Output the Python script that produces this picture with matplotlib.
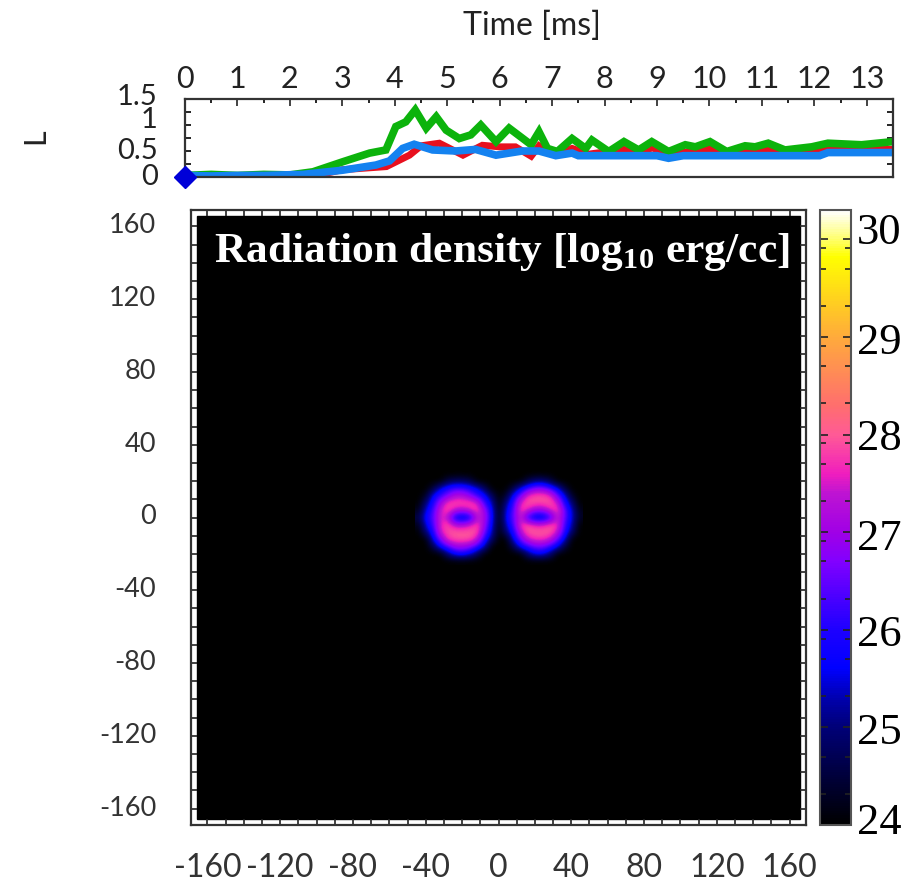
import matplotlib
matplotlib.use("Agg")
import matplotlib.pyplot as plt
import numpy as np
from matplotlib.colors import LinearSegmentedColormap, Normalize
from matplotlib.cm import ScalarMappable
from matplotlib.patches import Rectangle
from matplotlib.transforms import ScaledTranslation

plt.rcParams['font.family'] = ['Lato', 'DejaVu Sans']
plt.rcParams['mathtext.fontset'] = 'custom'
plt.rcParams['mathtext.bf'] = 'Liberation Serif:bold'
plt.rcParams['mathtext.rm'] = 'Liberation Serif:bold'

# luminosity curves
t_green = [0, 0.5, 1.0, 1.5, 2.0, 2.44, 3.0, 3.52, 3.83, 4.02, 4.21, 4.39, 4.6, 4.79, 4.98, 5.23, 5.45, 5.64,
           5.93, 6.18, 6.6, 6.75, 6.91, 7.1, 7.38, 7.64, 7.76, 8.08, 8.37, 8.65, 8.9, 9.22, 9.54, 9.73, 10.01,
           10.33, 10.68, 10.87, 11.12, 11.44, 11.95, 12.26, 12.9, 13.5]
green = [0.03, 0.05, 0.03, 0.05, 0.04, 0.1, 0.29, 0.46, 0.52, 0.97, 1.06, 1.29, 0.94, 1.16, 0.9, 0.74, 0.81, 1.0,
         0.68, 0.94, 0.62, 0.87, 0.55, 0.49, 0.74, 0.55, 0.71, 0.49, 0.68, 0.52, 0.68, 0.49, 0.62, 0.58, 0.68,
         0.49, 0.6, 0.58, 0.65, 0.52, 0.58, 0.65, 0.62, 0.68]
t_blue = [0, 0.5, 1.0, 1.5, 2.25, 3.0, 3.64, 3.9, 4.15, 4.37, 4.53, 4.72, 5.16, 5.54, 5.93, 6.43, 6.75, 7.07,
          7.38, 7.5, 9.0, 9.22, 9.5, 12.1, 12.26, 13.5]
blue = [0.03, 0.02, 0.03, 0.03, 0.05, 0.13, 0.23, 0.31, 0.55, 0.63, 0.58, 0.52, 0.5, 0.53, 0.42, 0.5, 0.5, 0.41,
        0.46, 0.41, 0.41, 0.36, 0.41, 0.41, 0.47, 0.47]
t_red = [0, 2.5, 3.0, 3.84, 4.28, 4.5, 4.85, 5.3, 5.67, 6.0, 6.3, 6.6, 6.75, 7.0, 7.38, 7.7, 8.37, 8.65, 8.9,
         9.3, 10.01, 10.4, 11.12, 11.5, 12.2, 13.5]
red = [0.02, 0.03, 0.14, 0.2, 0.42, 0.6, 0.65, 0.42, 0.61, 0.58, 0.58, 0.4, 0.6, 0.44, 0.55, 0.44, 0.53, 0.44,
       0.56, 0.44, 0.55, 0.44, 0.55, 0.44, 0.53, 0.53]
time_ticks = list(range(14))

# radiation density, log10, cells 4 units wide, top row first
cell_x = list(range(-44, 45, 4))
cell_y = list(range(24, -25, -4))
density = [
    [24]*23,
    [24, 24, 24, 24, 24.6, 24.8, 24.8, 24.6, 24, 24, 24, 24, 24, 24, 24, 24.6, 25, 25, 24.6, 24, 24, 24, 24],
    [24, 24, 24.5, 25.5, 26, 26.3, 26.3, 26, 25.6, 24.8, 24, 24, 24, 24.6, 25.6, 26.3, 26.8, 26.8, 26.3, 25.6, 24.5, 24, 24],
    [24, 24.3, 25.7, 26.2, 26.7, 27.2, 27.2, 26.8, 26.2, 25.8, 24.8, 24, 24.4, 25.8, 26.7, 27.7, 27.9, 27.9, 27.7, 26.6, 25.6, 24.3, 24],
    [24, 25, 26, 27, 27.8, 27.9, 27.9, 27.9, 27.6, 26.3, 25.4, 24, 25.1, 26.2, 27.6, 28, 27.9, 27.9, 28, 27.5, 26, 25, 24],
    [24.2, 25.5, 26.3, 27.5, 27.9, 27.4, 27.2, 27.5, 27.9, 27, 25.8, 24, 25.5, 26.4, 27.9, 27.5, 27, 27, 27.5, 27.9, 26.6, 25.4, 24.2],
    [24.6, 25.8, 26.4, 27.6, 27.3, 25.6, 25.3, 25.6, 27.3, 27.2, 25.9, 24, 25.7, 26.5, 27.5, 26, 25.3, 25.3, 26, 27.5, 26.6, 25.5, 24.3],
    [24.2, 25.5, 26.3, 27.6, 27.9, 27.3, 27.2, 27.5, 27.9, 27, 25.7, 24, 25.4, 26.3, 27.8, 27.9, 27.6, 27.6, 27.9, 27.8, 26.3, 25.3, 24],
    [24, 25, 26, 27.5, 27.9, 28, 28, 28, 27.9, 26.7, 25.4, 24, 25, 26, 27.3, 28, 28, 28, 28, 27.4, 26.1, 24.9, 24],
    [24, 24, 25.6, 26.7, 27.7, 27.9, 27.9, 27.9, 27.4, 26.1, 24.9, 24, 24, 25.6, 26.6, 27.4, 27.7, 27.7, 27.4, 26.6, 25.5, 24, 24],
    [24, 24, 24.6, 25.8, 26.4, 27, 27, 26.8, 26.2, 25.4, 24, 24, 24, 24.6, 25.8, 26.2, 26.6, 26.6, 26.2, 25.6, 24.5, 24, 24],
    [24, 24, 24, 24, 25, 25.7, 25.9, 25.5, 24.8, 24, 24, 24, 24, 24, 24, 25, 25.6, 25.6, 25, 24, 24, 24, 24],
    [24]*23,
]
xy_ticks = [-160, -120, -80, -40, 0, 40, 80, 120, 160]
cbar_labels = [24, 25, 26, 27, 28, 29, 30]
cbar_label_y = [24.02, 24.94, 25.95, 26.93, 27.95, 28.94, 30.06]
cbar_minor = [24.32, 24.7, 25.32, 25.7, 25.91, 26.32, 26.7, 26.91, 27.32, 27.7, 27.91, 28.32, 28.7, 28.91,
              29.32, 29.7, 29.91]
levels = [24, 24.5, 25, 25.27, 25.6, 26, 26.3, 26.7, 27, 27.4, 27.6, 28, 28.3, 29, 29.4, 29.83, 30.05, 30.3]
colors = ['#000000', '#00003c', '#000078', '#0000aa', '#0000ff', '#1e00ff', '#4600ff', '#8200ff', '#a000e6',
          '#be14d2', '#f01ebe', '#ff5a96', '#ff6e6e', '#ffaa3c', '#ffd21e', '#ffff00', '#ffff82', '#ffffff']

W, H = 906, 881
fig = plt.figure(figsize=(W/100, H/100), dpi=100)
def box(x0, y0, x1, y1):
    return [x0/W, 1-y1/H, (x1-x0)/W, (y1-y0)/H]

grey = '#333333'

# top panel
ax1 = fig.add_axes(box(185, 99, 893, 177))
ax1.plot(t_red, red, color='#e8101e', lw=5, solid_joinstyle='miter')
ax1.plot(t_green, green, color='#0cb30c', lw=5.5, solid_joinstyle='miter')
ax1.plot(t_blue, blue, color='#1482f0', lw=5.5, solid_joinstyle='miter')
ax1.plot([0], [0], 'D', color='#0000d8', ms=11, clip_on=False, zorder=5)
ax1.set_xlim(0, 13.5)
ax1.set_ylim(0, 1.5)
ax1.xaxis.tick_top()
ax1.set_xticks(time_ticks)
ax1.set_xticks(np.array(time_ticks) + 0.5, minor=True)
ax1.set_xticklabels([str(t) for t in time_ticks], fontsize=22, color='#222222')
ax1.set_yticks([0.25, 0.5, 0.75, 1, 1.25])
ax1.set_yticklabels([])
ax1.tick_params(axis='x', which='major', direction='in', length=5, width=1.2, pad=4, color='#222222', bottom=False)
ax1.tick_params(axis='x', which='minor', direction='in', length=3, width=1.2, bottom=False)
ax1.tick_params(axis='y', direction='in', length=4, width=1.2, left=True, right=True)
for lab, val in zip(['0', '0.5', '1', '1.5'], [0, 0.5, 1.1, 1.54]):
    ax1.text(-0.52, val, lab, ha='right', va='center', fontsize=21, color='#222222')
for s in ax1.spines.values():
    s.set_color(grey)
    s.set_linewidth(1.6)
fig.text(532/W, 1-26/H, 'Time [ms]', ha='center', va='center', fontsize=23, color='#222222')
fig.text(35/W, 1-136/H, 'L', ha='center', va='center', rotation=90, fontsize=22, color='#222222')

# main panel
ax2 = fig.add_axes(box(191, 210, 806, 825))
ax2.set_xlim(-169, 169)
ax2.set_ylim(-169, 169)
cmap = LinearSegmentedColormap.from_list('rad', [(min((v-24)/6.3, 1.0), c) for v, c in zip(levels, colors)])
norm = Normalize(24, 30.3)
ax2.add_patch(Rectangle((-165.7, -165.7), 331.4, 331.4, color='black', zorder=1))
ax2.imshow(density, cmap=cmap, norm=norm, interpolation='bicubic', zorder=2, aspect='auto',
           extent=[cell_x[0]-2, cell_x[-1]+2, cell_y[-1]-2, cell_y[0]+2])
ax2.set_xlim(-169, 169)
ax2.set_ylim(-169, 169)
ax2.set_xticks(xy_ticks)
ax2.set_yticks(xy_ticks)
ax2.set_xticks(np.arange(-160, 161, 10), minor=True)
ax2.set_yticks(np.arange(-160, 161, 10), minor=True)
ax2.set_xticklabels([str(v) for v in xy_ticks], fontsize=23, color='#333333')
ax2.set_yticklabels([str(v) for v in xy_ticks], fontsize=19.5, color='#333333')
ax2.tick_params(which='both', direction='in', length=4.5, width=1.2, top=True, right=True, color='#222222')
ax2.tick_params(axis='x', which='major', pad=20)
ax2.tick_params(axis='y', which='major', pad=25)
for lab in ax2.get_yticklabels():
    lab.set_transform(lab.get_transform() + ScaledTranslation(0, 3/100, fig.dpi_scale_trans))
for s in ax2.spines.values():
    s.set_color(grey)
    s.set_linewidth(1.6)
ax2.text(502/W, 1-252/H, r'Radiation density [log$_{\mathbf{10}}$ erg/cc]', transform=fig.transFigure,
         ha='center', va='center', color='white', fontsize=31.3, family='Liberation Serif', weight='bold', zorder=4)

# colour bar
cax = fig.add_axes(box(820, 210, 851, 825))
cb = fig.colorbar(ScalarMappable(norm=norm, cmap=cmap), cax=cax)
cb.set_ticks(cbar_labels[1:])
cb.set_ticklabels([])
cax.set_yticks(cbar_minor, minor=True)
cax.tick_params(which='major', direction='in', length=6, width=1.2, left=True, right=True, color='#222222')
cax.tick_params(which='minor', direction='in', length=4, width=1.2, left=True, right=True, color='#222222')
cb.outline.set_edgecolor('#555555')
cb.outline.set_linewidth(1.5)
for lab, y in zip(cbar_labels, cbar_label_y):
    cax.text(1.2, y, str(lab), transform=cax.get_yaxis_transform(), ha='left', va='center', fontsize=32,
             family='Liberation Serif', color='black', clip_on=False)

fig.savefig('out.png', dpi=100)
